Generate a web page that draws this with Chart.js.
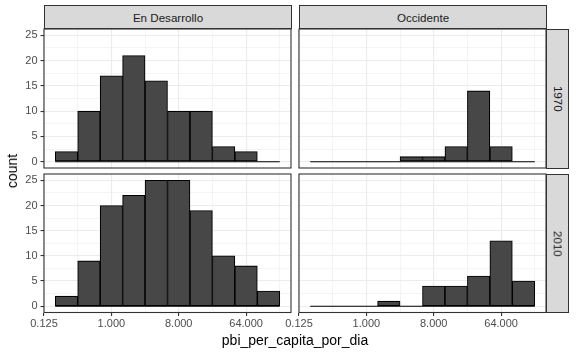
<!DOCTYPE html>
<html><head><meta charset="utf-8">
<script src="https://cdn.jsdelivr.net/npm/chart.js@4/dist/chart.umd.min.js"></script>
<style>
html,body{margin:0;padding:0;background:#fff;}
#wrap{position:relative;width:576px;height:355px;overflow:hidden;background:#fff;font-family:"Liberation Sans",Arial,sans-serif;}
canvas{position:absolute;left:0;top:0;}
.strip{position:absolute;box-sizing:border-box;background:#D9D9D9;border:1px solid #333;color:#1A1A1A;font-size:11.6px;display:flex;align-items:center;justify-content:center;}
.vtext{transform:rotate(90deg);white-space:nowrap;line-height:1;}
.title{position:absolute;font-size:14px;line-height:1;color:#000;white-space:nowrap;transform:translate(-50%,-50%);}
</style></head><body>
<div id="wrap">
  <canvas id="c00" width="576" height="355"></canvas>
  <canvas id="c01" width="576" height="355"></canvas>
  <canvas id="c10" width="576" height="355"></canvas>
  <canvas id="c11" width="576" height="355"></canvas>
  <div class="strip" id="s0" style="left:44px;top:5px;width:248px;height:24px;"></div>
  <div class="strip" id="s1" style="left:299px;top:5px;width:248px;height:24px;"></div>
  <div class="strip" id="r0" style="left:546px;top:29px;width:23px;height:140px;"><span class="vtext"></span></div>
  <div class="strip" id="r1" style="left:546px;top:174px;width:23px;height:139px;"><span class="vtext"></span></div>
  <div class="title" id="ytitle" style="left:12px;top:170.5px;transform:translate(-50%,-50%) rotate(-90deg);"></div>
  <div class="title" id="xtitle" style="left:295px;top:340px;"></div>
</div>
<script>
// ---- data ----
const columns = ['En Desarrollo', 'Occidente'];
const years = ['1970', '2010'];
const binCenters = [0.25, 0.5, 1, 2, 4, 8, 16, 32, 64, 128]; // dollars per day (log2 bins of width 1)
const dev1970  = [2, 10, 17, 21, 16, 10, 10, 3, 2, 0];
const west1970 = [0, 0, 0, 0, 1, 1, 3, 14, 3, 0];
const dev2010  = [2, 9, 20, 22, 25, 25, 19, 10, 8, 3];
const west2010 = [0, 0, 0, 1, 0, 4, 4, 6, 13, 5];
const xTickValues = [0.125, 1, 8, 64];
const xTickLabels = ['0.125', '1.000', '8.000', '64.000'];
const yTickValues = [0, 5, 10, 15, 20, 25];
const yTickLabels = ['0', '5', '10', '15', '20', '25'];
const xTitle = 'pbi_per_capita_por_dia';
const yTitle = 'count';

// ---- setup ----
Chart.defaults.font.family = '"Liberation Sans", Arial, sans-serif';
document.getElementById('s0').textContent = columns[0];
document.getElementById('s1').textContent = columns[1];
document.querySelector('#r0 .vtext').textContent = years[0];
document.querySelector('#r1 .vtext').textContent = years[1];
document.getElementById('xtitle').textContent = xTitle;
document.getElementById('ytitle').textContent = yTitle;

const binLog = binCenters.map(Math.log2);
const edgeLo = binLog[0] - 0.5, edgeHi = binLog[binLog.length - 1] + 0.5;
const xPad = 0.05 * (edgeHi - edgeLo);
const xMin = edgeLo - xPad, xMax = edgeHi + xPad;
const yMaxData = Math.max(...dev1970, ...west1970, ...dev2010, ...west2010);
const yMin = -0.05 * yMaxData, yMax = yMaxData * 1.05;

const xMajor = xTickValues.map(Math.log2);
const xStep = xMajor[1] - xMajor[0];
const xMinor = [];
for (let v = xMajor[0] - xStep / 2; v <= xMax; v += xStep) if (v >= xMin) xMinor.push(v);
const yStep = yTickValues[1] - yTickValues[0];
const yMinor = [];
for (let v = yTickValues[0] - yStep / 2; v <= yMax; v += yStep) if (v >= yMin) yMinor.push(v);

const near = (a, b) => Math.abs(a - b) < 1e-9;
const isXMajor = v => xMajor.some(m => near(m, v));
const isYMajor = v => yTickValues.some(m => near(m, v));

const panelBorder = {
  id: 'panelBorder',
  afterDatasetsDraw(chart) {
    const {ctx, chartArea: a} = chart;
    ctx.save();
    ctx.strokeStyle = '#333333';
    ctx.lineWidth = 1.1;
    ctx.strokeRect(a.left, a.top, a.right - a.left, a.bottom - a.top);
    ctx.restore();
  }
};

const colX = [[44, 291], [299, 546]];
const rowY = [[29, 168], [174, 312.5]];
const W = 576, H = 355;

function makePanel(id, counts, col, row) {
  const showY = col === 0, showX = row === 1;
  const yW = showY ? colX[0][0] : 0;
  const xH = showX ? H - rowY[1][1] : 0;
  const padding = {
    left: colX[col][0] - yW,
    right: W - colX[col][1],
    top: rowY[row][0],
    bottom: H - rowY[row][1] - xH
  };
  new Chart(document.getElementById(id), {
    type: 'bar',
    data: {
      datasets: [
        {
          type: 'bar',
          data: binLog.map((x, i) => ({x, y: counts[i]})),
          backgroundColor: '#474747',
          borderColor: '#000000',
          borderWidth: 1.1,
          borderSkipped: false,
          barPercentage: 1,
          categoryPercentage: 1,
          order: 1
        },
        {
          type: 'line',
          data: [{x: edgeLo, y: 0}, {x: edgeHi, y: 0}],
          borderColor: '#000000',
          borderWidth: 1.1,
          pointRadius: 0,
          order: 2
        }
      ]
    },
    options: {
      responsive: false,
      animation: false,
      events: [],
      layout: {padding, autoPadding: false},
      plugins: {legend: {display: false}, tooltip: {enabled: false}},
      scales: {
        x: {
          type: 'linear', min: xMin, max: xMax, offset: false,
          afterBuildTicks: s => { s.ticks = [...xMajor, ...xMinor].sort((a, b) => a - b).map(v => ({value: v})); },
          afterFit: s => { s.height = xH; s.paddingLeft = 0; s.paddingRight = 0; s.paddingTop = 0; s.paddingBottom = 0; },
          border: {display: false},
          grid: {
            offset: false,
            color: '#EBEBEB',
            lineWidth: c => (c.tick && isXMajor(c.tick.value)) ? 1.1 : 0.55,
            drawTicks: showX,
            tickLength: 3.5,
            tickWidth: 1.1,
            tickColor: c => (c.tick && isXMajor(c.tick.value)) ? '#333333' : 'rgba(0,0,0,0)'
          },
          ticks: {
            display: showX, autoSkip: false, maxRotation: 0, padding: 1.5,
            color: '#4D4D4D', font: {size: 11},
            callback: v => { const i = xMajor.findIndex(m => near(m, v)); return i >= 0 ? xTickLabels[i] : ''; }
          }
        },
        y: {
          type: 'linear', min: yMin, max: yMax,
          afterBuildTicks: s => { s.ticks = [...yTickValues, ...yMinor].sort((a, b) => a - b).map(v => ({value: v})); },
          afterFit: s => { s.width = yW; s.paddingLeft = 0; s.paddingRight = 0; s.paddingTop = 0; s.paddingBottom = 0; },
          border: {display: false},
          grid: {
            color: '#EBEBEB',
            lineWidth: c => (c.tick && isYMajor(c.tick.value)) ? 1.1 : 0.55,
            drawTicks: showY,
            tickLength: 3.5,
            tickWidth: 1.1,
            tickColor: c => (c.tick && isYMajor(c.tick.value)) ? '#333333' : 'rgba(0,0,0,0)'
          },
          ticks: {
            display: showY, autoSkip: false, padding: 3,
            color: '#4D4D4D', font: {size: 11},
            callback: v => { const i = yTickValues.findIndex(m => near(m, v)); return i >= 0 ? yTickLabels[i] : ''; }
          }
        }
      }
    },
    plugins: [panelBorder]
  });
}

makePanel('c00', dev1970, 0, 0);
makePanel('c01', west1970, 1, 0);
makePanel('c10', dev2010, 0, 1);
makePanel('c11', west2010, 1, 1);
</script>
</body></html>
